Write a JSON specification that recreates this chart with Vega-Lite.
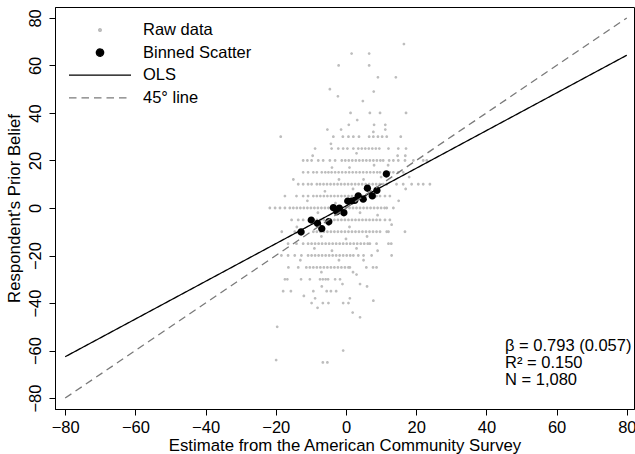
{
"$schema": "https://vega.github.io/schema/vega-lite/v6.json",
"width": 579, "height": 402,
"autosize": "none",
"padding": {"left": 55, "top": 7, "right": 1, "bottom": 45},
"background": "white",
"config": {
  "view": {"stroke": "black", "strokeWidth": 1},
  "font": "Liberation Sans",
  "axis": {"domainColor": "black", "tickColor": "black", "labelColor": "black", "titleColor": "black", "grid": false, "labelFontSize": 16.5, "titleFontSize": 16.8, "titleFontWeight": "normal", "tickSize": 6, "labelFont": "Liberation Sans", "titleFont": "Liberation Sans", "labelFlush": false, "labelOverlap": false},
  "legend": {"orient": "none", "legendX": 13, "legendY": 15, "labelFontSize": 16.5, "labelFont": "Liberation Sans", "labelColor": "black", "labelOffset": 11, "clipHeight": 16, "rowPadding": 5.6, "symbolStrokeWidth": 1.3, "symbolSize": 3844, "padding": 0}
},
"datasets": {
  "raw": [
{"x":16.5,"y":69},{"x":1.6,"y":65},{"x":6.6,"y":65},{"x":-2.1,"y":60},{"x":6.6,"y":60},{"x":9.1,"y":55},{"x":14.2,"y":55},{"x":-4.6,"y":50},{"x":7.9,"y":49},{"x":-2.3,"y":47},{"x":4.8,"y":45},{"x":1.3,"y":40},{"x":6.8,"y":40},{"x":9.7,"y":40},{"x":17.1,"y":40},{"x":3.2,"y":37},{"x":0.8,"y":35},{"x":8.0,"y":35},{"x":11.2,"y":35},{"x":-5.3,"y":33},{"x":-1.4,"y":33},{"x":7.8,"y":32},{"x":11.2,"y":33},{"x":-4.3,"y":27},{"x":-18.6,"y":30},
{"x":-3.6,"y":30},{"x":-0.9,"y":30},{"x":0.7,"y":30},{"x":2.1,"y":30},{"x":3.7,"y":30},{"x":6.6,"y":30},{"x":7.8,"y":30},{"x":9.1,"y":30},{"x":10.3,"y":30},{"x":11.6,"y":30},{"x":15.6,"y":30},
{"x":-8.8,"y":25},{"x":-4.1,"y":25},{"x":-2.2,"y":25},{"x":-0.8,"y":25},{"x":0.4,"y":25},{"x":2.1,"y":25},{"x":3.5,"y":25},{"x":4.5,"y":25},{"x":5.5,"y":25},{"x":6.5,"y":25},{"x":7.5,"y":25},{"x":8.5,"y":25},{"x":9.5,"y":25},{"x":12.1,"y":25},{"x":14.9,"y":25},{"x":17.1,"y":25},
{"x":14.7,"y":22},{"x":16.9,"y":22},
{"x":-12.2,"y":20},{"x":-11,"y":20},{"x":-9.8,"y":20},{"x":-7.9,"y":20},{"x":-6.5,"y":20},{"x":-4.6,"y":20},{"x":-3.1,"y":20},{"x":-1.2,"y":20},{"x":-0.2,"y":20},{"x":0.8,"y":20},{"x":1.8,"y":20},{"x":2.8,"y":20},{"x":3.8,"y":20},{"x":4.8,"y":20},{"x":5.8,"y":20},{"x":6.8,"y":20},{"x":7.8,"y":20},{"x":8.8,"y":20},{"x":9.8,"y":20},{"x":10.6,"y":20},{"x":12.3,"y":20},{"x":13.5,"y":20},{"x":14.9,"y":20},{"x":16.8,"y":20},{"x":19.2,"y":20},{"x":22,"y":20},{"x":23,"y":20},
{"x":-12.2,"y":15},{"x":-10.8,"y":15},{"x":-9.3,"y":15},{"x":-8.3,"y":15},{"x":-6.9,"y":15},{"x":-5.9,"y":15},{"x":-5,"y":15},{"x":-4.1,"y":15},{"x":-3.1,"y":15},{"x":-2.1,"y":15},{"x":-1.1,"y":15},{"x":-0.1,"y":15},{"x":0.9,"y":15},{"x":1.9,"y":15},{"x":2.9,"y":15},{"x":3.9,"y":15},{"x":4.9,"y":15},{"x":5.9,"y":15},{"x":6.9,"y":15},{"x":7.9,"y":15},{"x":8.9,"y":15},{"x":9.7,"y":15},{"x":11.1,"y":15},{"x":12.5,"y":15},{"x":13.5,"y":15},{"x":14.9,"y":15},{"x":16.3,"y":15},
{"x":-13.6,"y":10},{"x":-12.2,"y":10},{"x":-10.8,"y":10},{"x":-9.8,"y":10},{"x":-8.3,"y":10},{"x":-7.4,"y":10},{"x":-6.4,"y":10},{"x":-5.4,"y":10},{"x":-4.4,"y":10},{"x":-3.4,"y":10},{"x":-2.4,"y":10},{"x":-1.4,"y":10},{"x":-0.4,"y":10},{"x":0.6,"y":10},{"x":1.6,"y":10},{"x":2.6,"y":10},{"x":3.6,"y":10},{"x":4.6,"y":10},{"x":5.6,"y":10},{"x":6.6,"y":10},{"x":7.6,"y":10},{"x":8.6,"y":10},{"x":9.6,"y":10},{"x":10.6,"y":10},{"x":11.6,"y":10},{"x":14.4,"y":10},{"x":16.3,"y":10},{"x":18.7,"y":10},{"x":20.6,"y":10},{"x":22,"y":10},{"x":23.9,"y":10},
{"x":-17.4,"y":5},{"x":-14.1,"y":5},{"x":-12.2,"y":5},{"x":-10.8,"y":5},{"x":-9.3,"y":5},{"x":-8.3,"y":5},{"x":-7.3,"y":5},{"x":-6.3,"y":5},{"x":-5.3,"y":5},{"x":-4.3,"y":5},{"x":-3.3,"y":5},{"x":-2.3,"y":5},{"x":-1.3,"y":5},{"x":-0.3,"y":5},{"x":0.7,"y":5},{"x":1.7,"y":5},{"x":2.7,"y":5},{"x":3.7,"y":5},{"x":4.7,"y":5},{"x":5.7,"y":5},{"x":6.7,"y":5},{"x":7.7,"y":5},{"x":8.7,"y":5},{"x":9.7,"y":5},{"x":11.1,"y":5},{"x":12.5,"y":5},
{"x":-21.7,"y":0},{"x":-20.2,"y":0},{"x":-18.8,"y":0},{"x":-17.4,"y":0},{"x":-16,"y":0},{"x":-15,"y":0},{"x":-14,"y":0},{"x":-13,"y":0},{"x":-12,"y":0},{"x":-11,"y":0},{"x":-10,"y":0},{"x":-9,"y":0},{"x":-8,"y":0},{"x":-7,"y":0},{"x":-6,"y":0},{"x":-5,"y":0},{"x":-4,"y":0},{"x":-3,"y":0},{"x":-2,"y":0},{"x":-1,"y":0},{"x":0,"y":0},{"x":1,"y":0},{"x":2,"y":0},{"x":3,"y":0},{"x":4,"y":0},{"x":5,"y":0},{"x":6,"y":0},{"x":7,"y":0},{"x":8,"y":0},{"x":9,"y":0},{"x":10,"y":0},{"x":11,"y":0},{"x":11.6,"y":0},{"x":13.5,"y":0},
{"x":-15.5,"y":-5},{"x":-13.6,"y":-5},{"x":-12.2,"y":-5},{"x":-10.3,"y":-5},{"x":-9.3,"y":-5},{"x":-8.3,"y":-5},{"x":-7.3,"y":-5},{"x":-6.3,"y":-5},{"x":-5.3,"y":-5},{"x":-4.3,"y":-5},{"x":-3.3,"y":-5},{"x":-2.3,"y":-5},{"x":-1.3,"y":-5},{"x":-0.3,"y":-5},{"x":0.7,"y":-5},{"x":1.7,"y":-5},{"x":2.7,"y":-5},{"x":3.7,"y":-5},{"x":4.7,"y":-5},{"x":5.7,"y":-5},{"x":6.7,"y":-5},{"x":7.7,"y":-5},{"x":8.7,"y":-5},{"x":9.7,"y":-5},{"x":11.1,"y":-5},{"x":12.5,"y":-5},
{"x":-18.3,"y":-10},{"x":-14.6,"y":-10},{"x":-12.2,"y":-10},{"x":-9.3,"y":-10},{"x":-8.3,"y":-10},{"x":-7.3,"y":-10},{"x":-6.3,"y":-10},{"x":-5.3,"y":-10},{"x":-4.3,"y":-10},{"x":-3.3,"y":-10},{"x":-2.3,"y":-10},{"x":-1.3,"y":-10},{"x":-0.3,"y":-10},{"x":0.7,"y":-10},{"x":1.7,"y":-10},{"x":2.7,"y":-10},{"x":3.7,"y":-10},{"x":4.7,"y":-10},{"x":5.7,"y":-10},{"x":6.7,"y":-10},{"x":7.7,"y":-10},{"x":8.7,"y":-10},{"x":9.7,"y":-10},{"x":11.6,"y":-10},{"x":12.1,"y":-10},{"x":16.8,"y":-10},
{"x":-16.5,"y":-15},{"x":-14.1,"y":-15},{"x":-12.2,"y":-15},{"x":-10.8,"y":-15},{"x":-9.8,"y":-15},{"x":-8.8,"y":-15},{"x":-7.8,"y":-15},{"x":-6.8,"y":-15},{"x":-5.8,"y":-15},{"x":-4.8,"y":-15},{"x":-3.8,"y":-15},{"x":-2.8,"y":-15},{"x":-1.8,"y":-15},{"x":-0.8,"y":-15},{"x":0.2,"y":-15},{"x":1.2,"y":-15},{"x":2.2,"y":-15},{"x":3.2,"y":-15},{"x":4.2,"y":-15},{"x":5.2,"y":-15},{"x":6.2,"y":-15},{"x":6.8,"y":-15},{"x":8.7,"y":-15},{"x":12.1,"y":-15},{"x":12.9,"y":-15},
{"x":-18.4,"y":-20},{"x":-16.5,"y":-20},{"x":-14.6,"y":-20},{"x":-12.7,"y":-20},{"x":-10.8,"y":-20},{"x":-9.8,"y":-20},{"x":-8.8,"y":-20},{"x":-7.8,"y":-20},{"x":-6.8,"y":-20},{"x":-5.8,"y":-20},{"x":-4.8,"y":-20},{"x":-3.8,"y":-20},{"x":-2.8,"y":-20},{"x":-1.8,"y":-20},{"x":-0.8,"y":-20},{"x":0.2,"y":-20},{"x":1.2,"y":-20},{"x":2.1,"y":-20},{"x":3.5,"y":-20},{"x":5,"y":-20},{"x":7.3,"y":-20},{"x":13,"y":-20},
{"x":-16.4,"y":-25},{"x":-13.6,"y":-25},{"x":-11.3,"y":-25},{"x":-10.3,"y":-25},{"x":-9.3,"y":-25},{"x":-8.3,"y":-25},{"x":-7.3,"y":-25},{"x":-6.3,"y":-25},{"x":-5.3,"y":-25},{"x":-4.3,"y":-25},{"x":-3.3,"y":-25},{"x":-2.3,"y":-25},{"x":-1.3,"y":-25},{"x":-0.3,"y":-25},{"x":0.7,"y":-25},{"x":1.1,"y":-25},{"x":5.8,"y":-25},{"x":7.7,"y":-25},{"x":8.7,"y":-25},
{"x":-17.4,"y":-30},{"x":-16.7,"y":-30},{"x":-12.8,"y":-30},{"x":-10.3,"y":-30},{"x":-7.4,"y":-30},{"x":-6.6,"y":-30},{"x":-5.8,"y":-30},{"x":-5.1,"y":-30},{"x":-3.1,"y":-30},{"x":-1.7,"y":-30},
{"x":3.0,"y":-28},{"x":-6.9,"y":-33},{"x":-17.9,"y":-35},{"x":-15.7,"y":-35},{"x":-9.3,"y":-35},{"x":-5.5,"y":-35},{"x":-4.3,"y":-35},{"x":-2.8,"y":-35},{"x":-8.8,"y":-38},{"x":1.1,"y":-38},{"x":7.8,"y":-39},{"x":-9.8,"y":-40},{"x":-6.6,"y":-40},{"x":-5.0,"y":-40},{"x":-0.8,"y":-40},{"x":0.7,"y":-40},{"x":-8.1,"y":-42},{"x":1.9,"y":-44},{"x":4.0,"y":-46},{"x":-19.6,"y":-50},{"x":-0.8,"y":-60},{"x":-19.9,"y":-64},{"x":-6.6,"y":-65},{"x":-5.3,"y":-65},
{"x":-9.5,"y":22},{"x":3,"y":23},{"x":8,"y":18},{"x":-4,"y":17},{"x":1,"y":17},{"x":5,"y":12},{"x":-2,"y":12},{"x":10,"y":13},{"x":-6,"y":7},{"x":2,"y":8},{"x":7,"y":7},{"x":-11,"y":3},{"x":-3,"y":2},{"x":4,"y":-2},{"x":-8,"y":-2},{"x":9,"y":-3},{"x":-5,"y":-7},{"x":1,"y":-8},{"x":6,"y":-12},{"x":-7,"y":-12},{"x":0,"y":-13},{"x":3,"y":-17},{"x":-9,"y":-17},{"x":-4,"y":-18},{"x":9,"y":-18},{"x":-2,"y":-22},{"x":5,"y":-22},{"x":-13,"y":-22},{"x":-7,"y":-27},{"x":2,"y":-27},{"x":-1,"y":-32},{"x":4,"y":-32},{"x":-12,"y":-37},{"x":6,"y":-33},{"x":-14,"y":-8},{"x":13,"y":-7},{"x":15,"y":3},{"x":17,"y":8},{"x":-15,"y":12},{"x":12,"y":18},{"x":18,"y":13}
  ],
  "binned": [
{"x":-12.8,"y":-10.1},{"x":-9.9,"y":-5.1},{"x":-8.1,"y":-6.5},{"x":-6.9,"y":-8.7},{"x":-4.9,"y":-5.8},{"x":-3.6,"y":0.1},{"x":-1.9,"y":-0.1},{"x":-2.6,"y":-1.6},{"x":-0.6,"y":-2.0},{"x":0.5,"y":2.9},{"x":1.6,"y":2.9},{"x":2.5,"y":3.2},{"x":3.5,"y":5.1},{"x":4.9,"y":3.7},{"x":6.1,"y":8.3},{"x":7.5,"y":5.1},{"x":8.8,"y":7.4},{"x":11.5,"y":14.3}
  ],
  "ols": [{"x":-80,"y":-62.6},{"x":80,"y":64.3}],
  "diag": [{"x":-80,"y":-80},{"x":80,"y":80}]
},
"layer": [
  {
    "data": {"name": "raw"},
    "mark": {"type": "point", "filled": true, "opacity": 1, "size": 3844},
    "encoding": {
      "x": {"field": "x", "type": "quantitative", "scale": {"domain": [-82.9, 82.05], "nice": false, "zero": false}, "axis": {"values": [-80,-60,-40,-20,0,20,40,60,80], "title": "Estimate from the American Community Survey", "labelPadding": 4, "titlePadding": 2}},
      "y": {"field": "y", "type": "quantitative", "scale": {"domain": [-84.6, 84.6], "nice": false, "zero": false}, "axis": {"values": [-80,-60,-40,-20,0,20,40,60,80], "title": "Respondent's Prior Belief", "labelAngle": -90, "labelPadding": 5.5, "titlePadding": 4}},
      "color": {"datum": "Raw data", "type": "nominal", "scale": {"domain": ["Raw data", "Binned Scatter", "OLS", "45° line"], "range": ["#bdbdbd", "#000000", "#000000", "#7a7a7a"]}, "legend": {"title": null}},
      "shape": {"datum": "Raw data", "type": "nominal", "scale": {"domain": ["Raw data", "Binned Scatter", "OLS", "45° line"], "range": ["M-0.045,0A0.045,0.045,0,1,0,0.045,0A0.045,0.045,0,1,0,-0.045,0Z", "M-0.118,0A0.118,0.118,0,1,0,0.118,0A0.118,0.118,0,1,0,-0.118,0Z", "stroke", "stroke"]}, "legend": {"title": null}}
    }
  },
  {
    "data": {"name": "binned"},
    "mark": {"type": "point", "filled": true, "opacity": 1, "size": 3844},
    "encoding": {
      "x": {"field": "x", "type": "quantitative"},
      "y": {"field": "y", "type": "quantitative"},
      "color": {"datum": "Binned Scatter", "type": "nominal", "legend": {"title": null}},
      "shape": {"datum": "Binned Scatter", "type": "nominal", "legend": {"title": null}}
    }
  },
  {
    "data": {"name": "ols"},
    "mark": {"type": "line", "strokeWidth": 1.3},
    "encoding": {
      "x": {"field": "x", "type": "quantitative"},
      "y": {"field": "y", "type": "quantitative"},
      "color": {"datum": "OLS", "type": "nominal", "legend": {"title": null}},
      "strokeDash": {"datum": "OLS", "type": "nominal", "scale": {"domain": ["Raw data", "Binned Scatter", "OLS", "45° line"], "range": [[1,0],[1,0],[1,0],[7.5,5]]}, "legend": {"title": null}}
    }
  },
  {
    "data": {"name": "diag"},
    "mark": {"type": "line", "strokeWidth": 1.3},
    "encoding": {
      "x": {"field": "x", "type": "quantitative"},
      "y": {"field": "y", "type": "quantitative"},
      "color": {"datum": "45° line", "type": "nominal", "legend": {"title": null}},
      "strokeDash": {"datum": "45° line", "type": "nominal", "legend": {"title": null}}
    }
  },
  {
    "data": {"values": [{}]},
    "mark": {"type": "text", "text": ["β = 0.793 (0.057)", "R² = 0.150", "N = 1,080"], "align": "left", "baseline": "alphabetic", "fontSize": 16.5, "lineHeight": 17, "color": "black", "font": "Liberation Sans"},
    "encoding": {
      "x": {"datum": 45.3, "type": "quantitative"},
      "y": {"datum": -60, "type": "quantitative"}
    }
  }
]
}
